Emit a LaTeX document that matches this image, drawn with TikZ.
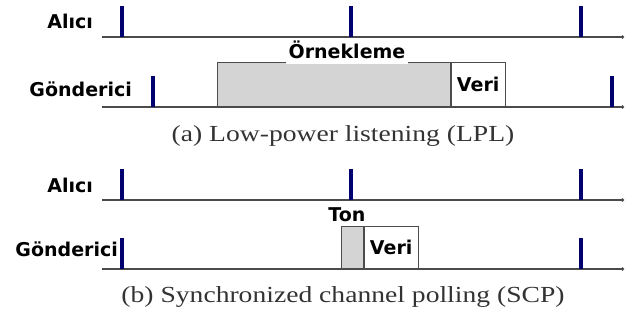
\documentclass[tikz,border=0pt]{standalone}
\usepackage{fontspec}
\newfontfamily\lblfont{DejaVu Sans}
\newfontfamily\capfont{Liberation Serif}
\usepackage{tikz}
\usetikzlibrary{arrows.meta}
\usepackage{xcolor}
\definecolor{tickblue}{RGB}{0,0,110}
\definecolor{axisgray}{RGB}{75,75,75}

\begin{document}
\begin{tikzpicture}[x=1pt,y=-1pt]
\tikzstyle{lbl} = [font=\lblfont\bfseries\fontsize{19}{21}\selectfont, inner sep=0pt];
\tikzstyle{caption} = [font=\capfont\fontsize{23}{25}\selectfont, text=black!80,
inner sep=0pt, anchor=base];
\tikzstyle{tick} = [rectangle, fill=tickblue, minimum width=4pt, minimum height=31pt,
inner sep=0pt, anchor=south];
\tikzstyle{probe} = [rectangle, draw=black!70, fill=black!17, thick, anchor=south west, inner sep=0pt];
\tikzstyle{data} = [rectangle, draw=black!70, fill=white, thick, anchor=south west, inner sep=0pt,
font=\lblfont\bfseries\fontsize{19}{21}\selectfont];
\tikzstyle{line} = [draw=axisgray, line width=1.8pt, -{Circle[length=3pt]}];
\useasboundingbox (0,0) rectangle (625,320);

% (a) LPL
\node [lbl, anchor=base east] (rxa) at (93,29) {Alıcı};
\node [lbl, anchor=base east] (txa) at (132,97) {Gönderici};
\node [probe, minimum width=233pt, minimum height=44pt] (samp) at (217,107) {};
\node [data, minimum width=54pt, minimum height=44pt] (dataa) at (samp.south east) {Veri};
\node [lbl, fill=white, inner xsep=3pt, inner ysep=5pt, anchor=base] (samplbl) at (347,59) {Örnekleme};
\coordinate (rxa0) at (102,37);
\coordinate (rxa1) at (624,37);
\coordinate (txa0) at (102,107);
\coordinate (txa1) at (624,107);
\path [line] (rxa0) -- (rxa1);
\path [line] (txa0) -- (txa1);
\node [tick] (rxa-w1) at (122,37) {};
\node [tick] (rxa-w2) at (351,37) {};
\node [tick] (rxa-w3) at (581,37) {};
\node [tick] (txa-w1) at (153,107) {};
\node [tick] (txa-w2) at (612,107) {};
\node [caption] (capa) at (343,142) {\scalebox{1.2}[1]{(a) Low-power listening (LPL)}};

% (b) SCP
\node [lbl, anchor=base east] (rxb) at (93,193) {Alıcı};
\node [lbl, anchor=base east] (txb) at (118,257) {Gönderici};
\node [probe, minimum width=22pt, minimum height=42pt] (tone) at (341,269) {};
\node [data, minimum width=54pt, minimum height=42pt] (datab) at (tone.south east) {Veri};
\node [lbl, anchor=base] (tonelbl) at (347,222) {Ton};
\coordinate (rxb0) at (102,200);
\coordinate (rxb1) at (624,200);
\coordinate (txb0) at (102,269);
\coordinate (txb1) at (624,269);
\path [line] (rxb0) -- (rxb1);
\path [line] (txb0) -- (txb1);
\node [tick] (rxb-w1) at (122,200) {};
\node [tick] (rxb-w2) at (351,200) {};
\node [tick] (rxb-w3) at (581,200) {};
\node [tick] (txb-w1) at (122,269) {};
\node [tick] (txb-w2) at (581,269) {};
\node [caption] (capb) at (343,303) {\scalebox{1.2}[1]{(b) Synchronized channel polling (SCP)}};

\end{tikzpicture}
\end{document}
